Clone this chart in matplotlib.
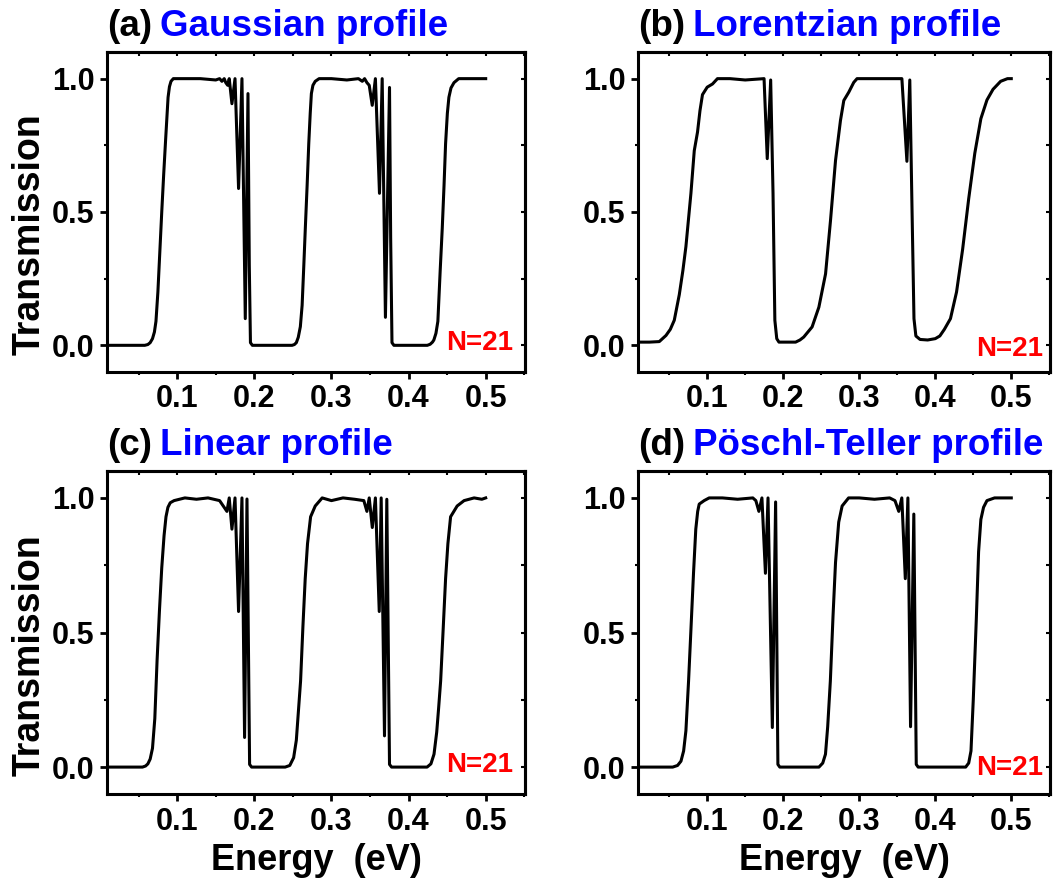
import matplotlib
matplotlib.use('Agg')
import matplotlib.pyplot as plt
from matplotlib.ticker import MultipleLocator, FormatStrFormatter

plt.rcParams['font.family'] = ['Liberation Sans', 'DejaVu Sans']
plt.rcParams['font.weight'] = 'bold'

# (a) Gaussian profile
energy_a = [0.012, 0.040, 0.058, 0.062, 0.065, 0.068, 0.0705, 0.0725, 0.075, 0.0775, 0.080, 0.0825, 0.085,
            0.0868, 0.0882, 0.090, 0.092, 0.095,
            0.110, 0.130, 0.150, 0.155, 0.158, 0.161, 0.163, 0.1655, 0.1675, 0.171, 0.175, 0.1796, 0.184, 0.1883,
            0.1918, 0.1935, 0.1950, 0.1975, 0.230, 0.249, 0.252, 0.2545, 0.257, 0.2597, 0.262, 0.2642, 0.2662,
            0.2685, 0.2706, 0.2725, 0.274, 0.276, 0.279, 0.284,
            0.300, 0.320, 0.335, 0.340, 0.343, 0.346, 0.349, 0.3529, 0.357, 0.3623, 0.3658, 0.370, 0.3753, 0.3768,
            0.3785, 0.381, 0.410, 0.4243, 0.428, 0.431, 0.4328, 0.4355, 0.438, 0.441, 0.4437, 0.446, 0.448, 0.4503,
            0.4523, 0.455, 0.4589, 0.465, 0.480, 0.500]
trans_a = [0.0, 0.0, 0.0, 0.003, 0.01, 0.025, 0.05, 0.09, 0.20, 0.35, 0.50, 0.64, 0.77,
           0.86, 0.93, 0.97, 0.99, 1.0,
           1.0, 1.0, 0.995, 1.0, 0.99, 1.0, 0.985, 0.975, 1.0, 0.906, 1.0, 0.588, 1.0, 0.10,
           0.944, 0.30, 0.01, 0.0, 0.0, 0.0, 0.003, 0.01, 0.03, 0.07, 0.15, 0.30, 0.443,
           0.60, 0.756, 0.87, 0.944, 0.975, 0.99, 1.0,
           1.0, 0.995, 1.0, 0.99, 1.0, 0.985, 0.975, 0.90, 1.0, 0.57, 1.0, 0.105, 0.967, 0.40,
           0.01, 0.0, 0.0, 0.0, 0.004, 0.012, 0.02, 0.045, 0.09, 0.28, 0.44, 0.60, 0.756, 0.87,
           0.93, 0.965, 0.985, 1.0, 1.0, 1.0]

# (b) Lorentzian profile
energy_b = [0.011, 0.024, 0.037, 0.0458, 0.0515, 0.0567, 0.0633, 0.068, 0.072, 0.0786, 0.083, 0.0873, 0.0905,
            0.0938, 0.100, 0.107, 0.1135, 0.130, 0.150, 0.1748, 0.179, 0.1835, 0.1866, 0.189, 0.1915, 0.1944,
            0.2163, 0.222, 0.227, 0.238, 0.2469, 0.2557, 0.2622, 0.2688, 0.2753, 0.2797, 0.2862, 0.2928, 0.2971,
            0.320, 0.3561, 0.3627, 0.3665, 0.3695, 0.3720, 0.3745, 0.3800, 0.3900, 0.400, 0.406, 0.412, 0.420,
            0.428, 0.436, 0.444, 0.452, 0.460, 0.468, 0.476, 0.486, 0.495, 0.500]
trans_b = [0.012, 0.012, 0.014, 0.037, 0.06, 0.094, 0.19, 0.28, 0.37, 0.57, 0.73, 0.80, 0.88,
           0.94, 0.968, 0.98, 1.0, 1.0, 0.995, 1.0, 0.70, 0.995, 0.57, 0.094, 0.025, 0.012,
           0.012, 0.02, 0.031, 0.069, 0.143, 0.268, 0.468, 0.693, 0.843, 0.918, 0.949, 0.986, 1.0,
           1.0, 1.0, 0.69, 0.995, 0.50, 0.10, 0.035, 0.022, 0.02, 0.025, 0.035, 0.06, 0.10,
           0.20, 0.36, 0.55, 0.72, 0.85, 0.92, 0.96, 0.99, 1.0, 1.0]

# (c) Linear profile
energy_c = [0.012, 0.040, 0.055, 0.059, 0.062, 0.065, 0.068, 0.071, 0.074, 0.077, 0.080, 0.083, 0.0855, 0.088,
            0.091, 0.096, 0.110, 0.125, 0.140, 0.155, 0.1645, 0.1675, 0.171, 0.175, 0.1796, 0.184, 0.1874,
            0.1905, 0.1939, 0.1965, 0.240, 0.246, 0.251, 0.2545, 0.257, 0.260, 0.263, 0.266, 0.269, 0.273, 0.279,
            0.288, 0.300, 0.315, 0.330, 0.342, 0.346, 0.349, 0.353, 0.357, 0.362, 0.3645, 0.3688, 0.3718, 0.3753,
            0.378, 0.424, 0.429, 0.433, 0.4365, 0.439, 0.4416, 0.445, 0.448, 0.451, 0.4545, 0.463, 0.472, 0.485,
            0.495, 0.500]
trans_c = [0.0, 0.0, 0.0, 0.004, 0.012, 0.03, 0.07, 0.18, 0.40, 0.58, 0.74, 0.86, 0.93, 0.965,
           0.982, 0.99, 1.0, 0.995, 1.0, 0.99, 0.95, 1.0, 0.884, 1.0, 0.578, 1.0, 0.11,
           0.996, 0.01, 0.0, 0.0, 0.006, 0.035, 0.10, 0.20, 0.32, 0.52, 0.70, 0.83, 0.93, 0.97,
           1.0, 0.99, 1.0, 0.995, 0.99, 0.95, 1.0, 0.89, 1.0, 0.578, 1.0, 0.116, 0.995, 0.01,
           0.0, 0.0, 0.012, 0.048, 0.13, 0.22, 0.32, 0.52, 0.70, 0.83, 0.93, 0.97, 0.99, 1.0,
           0.995, 1.0]

# (d) Poeschl-Teller profile
energy_d = [0.012, 0.040, 0.0546, 0.061, 0.0655, 0.069, 0.072, 0.0755, 0.0786, 0.082, 0.085, 0.0875, 0.0895,
            0.096, 0.1026, 0.120, 0.140, 0.160, 0.164, 0.168, 0.172, 0.1766, 0.180, 0.1857, 0.190, 0.193, 0.1955,
            0.230, 0.247, 0.252, 0.2556, 0.2585, 0.262, 0.2655, 0.2688, 0.273, 0.2775, 0.286, 0.300, 0.320, 0.340,
            0.347, 0.352, 0.356, 0.3606, 0.364, 0.3675, 0.3718, 0.3750, 0.3775, 0.410, 0.440, 0.444, 0.447, 0.450,
            0.454, 0.457, 0.460, 0.4635, 0.468, 0.478, 0.500]
trans_d = [0.0, 0.0, 0.0, 0.006, 0.022, 0.06, 0.135, 0.32, 0.51, 0.72, 0.884, 0.95, 0.977,
           0.99, 1.0, 1.0, 0.995, 1.0, 0.99, 0.95, 1.0, 0.72, 1.0, 0.147, 0.985, 0.01, 0.0,
           0.0, 0.0, 0.015, 0.048, 0.15, 0.32, 0.56, 0.76, 0.91, 0.97, 1.0, 1.0, 0.995, 1.0,
           0.99, 0.95, 1.0, 0.70, 1.0, 0.15, 0.94, 0.01, 0.0, 0.0, 0.0, 0.015, 0.06, 0.25,
           0.55, 0.80, 0.92, 0.965, 0.99, 1.0, 1.0]

panel_tags = ['(a)', '(b)', '(c)', '(d)']
panel_names = ['Gaussian profile', 'Lorentzian profile', 'Linear profile', 'Pöschl-Teller profile']
energies = [energy_a, energy_b, energy_c, energy_d]
transmissions = [trans_a, trans_b, trans_c, trans_d]

x_ticks = [0.1, 0.2, 0.3, 0.4, 0.5]
y_ticks = [0.0, 0.5, 1.0]

fig = plt.figure(figsize=(10.53, 8.84), dpi=100)
rects = [[0.1016, 0.5792, 0.3970, 0.3620],
         [0.6059, 0.5792, 0.3913, 0.3620],
         [0.1016, 0.1018, 0.3970, 0.3654],
         [0.6059, 0.1018, 0.3913, 0.3654]]
n_pos = [(0.971, 0.05), (0.983, 0.03), (0.971, 0.05), (0.983, 0.04)]

for i in range(4):
    ax = fig.add_axes(rects[i])
    ax.plot(energies[i], transmissions[i], color='black', lw=2.2)
    ax.set_xlim(0.009, 0.551)
    ax.set_ylim(-0.1, 1.1)
    ax.set_xticks(x_ticks)
    ax.set_yticks(y_ticks)
    ax.xaxis.set_major_formatter(FormatStrFormatter('%.1f'))
    ax.yaxis.set_major_formatter(FormatStrFormatter('%.1f'))
    ax.xaxis.set_minor_locator(MultipleLocator(0.05))
    ax.yaxis.set_minor_locator(MultipleLocator(0.25))
    ax.tick_params(which='major', direction='out', length=5, width=2, labelsize=22, pad=4)
    ax.tick_params(which='minor', direction='out', length=2.5, width=1.5)
    for s in ax.spines.values():
        s.set_linewidth(2.2)

    # small inward ticks on the top and right frame
    top = ax.secondary_xaxis('top')
    top.set_xticks(x_ticks)
    top.xaxis.set_minor_locator(MultipleLocator(0.05))
    top.tick_params(which='both', direction='in', length=3, width=1.5, labeltop=False)
    top.spines['top'].set_linewidth(2.2)
    right = ax.secondary_yaxis('right')
    right.set_yticks(y_ticks)
    right.yaxis.set_minor_locator(MultipleLocator(0.25))
    right.tick_params(which='both', direction='in', length=3, width=1.5, labelright=False)
    right.spines['right'].set_linewidth(2.2)

    # panel title: black tag then blue name
    t1 = ax.text(0.0, 1.025, panel_tags[i], transform=ax.transAxes, fontsize=26.5,
                 fontweight='bold', color='black', va='bottom', ha='left')
    ax.annotate(panel_names[i], xy=(1, 0), xycoords=t1, xytext=(6, 0), textcoords='offset points',
                fontsize=26.5, fontweight='bold', color='blue', va='bottom', ha='left')

    ax.text(n_pos[i][0], n_pos[i][1], 'N=21', transform=ax.transAxes, fontsize=20,
            fontweight='bold', color='red', ha='right', va='bottom')

    if i % 2 == 0:
        ax.set_ylabel('Transmission', fontsize=27, fontweight='bold')
        ax.yaxis.set_label_coords(-0.142, 0.43)
    if i >= 2:
        ax.set_xlabel('Energy  (eV)', fontsize=26, fontweight='bold', labelpad=5)

plt.savefig('out.png', dpi=100)
